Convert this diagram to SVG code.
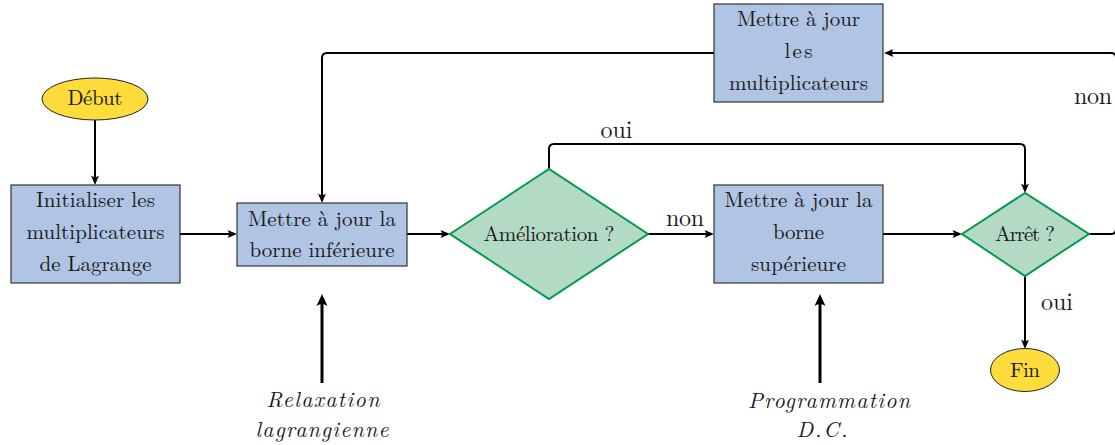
<svg xmlns="http://www.w3.org/2000/svg" width="1115" height="445" viewBox="0 0 1115 445">
<style>
text{fill:#1a1a1a;text-anchor:middle}
.n{font-size:21px}
.l{font-size:24px}
.it{font-size:22px;font-style:italic}
.box{fill:#b0c4e4;stroke:#333;stroke-width:1.2}
.ell{fill:#fddc3c;stroke:#222;stroke-width:1}
.dia{fill:#b3dac4;stroke:#009a4e;stroke-width:2}
.c{fill:none;stroke:#000;stroke-width:2;marker-end:url(#ah)}
.t{fill:none;stroke:#000;stroke-width:3;marker-end:url(#ahb)}
</style>
<defs>
<marker id="ah" markerUnits="userSpaceOnUse" viewBox="0 0 10 10" refX="7" refY="5" markerWidth="10" markerHeight="10" orient="auto">
<path d="M0.5,1 L10,5 L0.5,9 Q3.5,5 0.5,1 Z" fill="#000"/>
</marker>
<marker id="ahb" markerUnits="userSpaceOnUse" viewBox="0 0 12 12" refX="8" refY="6" markerWidth="12" markerHeight="12" orient="auto">
<path d="M0,0.5 L12,6 L0,11.5 Q4,6 0,0.5 Z" fill="#000"/>
</marker>
</defs>
<g font-family="Latin Modern Roman, Liberation Serif, serif">
<g id="connectors">
<path class="c" d="M95,120 V182"/>
<path class="c" d="M180,234 H234"/>
<path class="c" d="M407,234 H447"/>
<path class="c" d="M648,234 H711"/>
<path class="c" d="M883,234 H959"/>
<path class="c" d="M549,169 V149 Q549,144 554,144 H1020 Q1025,144 1025,149 V190"/>
<path class="c" d="M1089,234 H1111 Q1116,234 1116,229 V58 Q1116,53 1111,53 H887"/>
<path class="c" d="M714,53 H327 Q322,53 322,58 V200"/>
<path class="c" d="M1025,276 V346"/>
<path class="t" d="M322,383 V298"/>
<path class="t" d="M820,383 V298"/>
<text class="l" x="616.5" y="138" textLength="32" lengthAdjust="spacing">oui</text>
<text class="l" x="685" y="226" textLength="38" lengthAdjust="spacing">non</text>
<text class="l" x="1093" y="104" textLength="38" lengthAdjust="spacing">non</text>
<text class="l" x="1057" y="310" textLength="32" lengthAdjust="spacing">oui</text>
<text class="it" x="323" y="407" textLength="113" lengthAdjust="spacing">Relaxation</text>
<text class="it" x="322" y="437" textLength="133" lengthAdjust="spacing">lagrangienne</text>
<text class="it" x="829" y="408" textLength="162" lengthAdjust="spacing">Programmation</text>
<text class="it" x="822" y="437" textLength="51" lengthAdjust="spacing">D.C.</text>
</g>
<g id="debut">
<ellipse class="ell" cx="95" cy="99" rx="53" ry="21"/>
<text class="n" x="95" y="105" textLength="55" lengthAdjust="spacing">Début</text>
</g>
<g id="init">
<rect class="box" x="11" y="185" width="169" height="98"/>
<text class="n" x="95.5" y="207" textLength="119" lengthAdjust="spacing">Initialiser les</text>
<text class="n" x="95.5" y="239" textLength="138" lengthAdjust="spacing">multiplicateurs</text>
<text class="n" x="95.5" y="271" textLength="112" lengthAdjust="spacing">de Lagrange</text>
</g>
<g id="borneinf">
<rect class="box" x="237" y="203" width="170" height="63"/>
<text class="n" x="322" y="226" textLength="148" lengthAdjust="spacing">Mettre à jour la</text>
<text class="n" x="322" y="257" textLength="145" lengthAdjust="spacing">borne inférieure</text>
</g>
<g id="amelioration">
<polygon class="dia" points="450,234 549,169 648,234 549,299"/>
<text class="n" x="549" y="241" textLength="131" lengthAdjust="spacing">Amélioration ?</text>
</g>
<g id="bornesup">
<rect class="box" x="714" y="185" width="169" height="98"/>
<text class="n" x="798.5" y="207" textLength="148" lengthAdjust="spacing">Mettre à jour la</text>
<text class="n" x="798.5" y="239" textLength="51" lengthAdjust="spacing">borne</text>
<text class="n" x="798.5" y="271" textLength="95" lengthAdjust="spacing">supérieure</text>
</g>
<g id="arret">
<polygon class="dia" points="962,234 1025,193 1089,234 1025,276"/>
<text class="n" x="1025" y="241" textLength="60" lengthAdjust="spacing">Arrêt ?</text>
</g>
<g id="fin">
<ellipse class="ell" cx="1025" cy="370" rx="34.5" ry="21.5"/>
<text class="n" x="1025" y="377" textLength="30" lengthAdjust="spacing">Fin</text>
</g>
<g id="majmult">
<rect class="box" x="714" y="4" width="169" height="98"/>
<text class="n" x="798.5" y="26" textLength="123" lengthAdjust="spacing">Mettre à jour</text>
<text class="n" x="798.5" y="58" textLength="28" lengthAdjust="spacing">les</text>
<text class="n" x="798.5" y="90" textLength="139" lengthAdjust="spacing">multiplicateurs</text>
</g>
</g>
</svg>
